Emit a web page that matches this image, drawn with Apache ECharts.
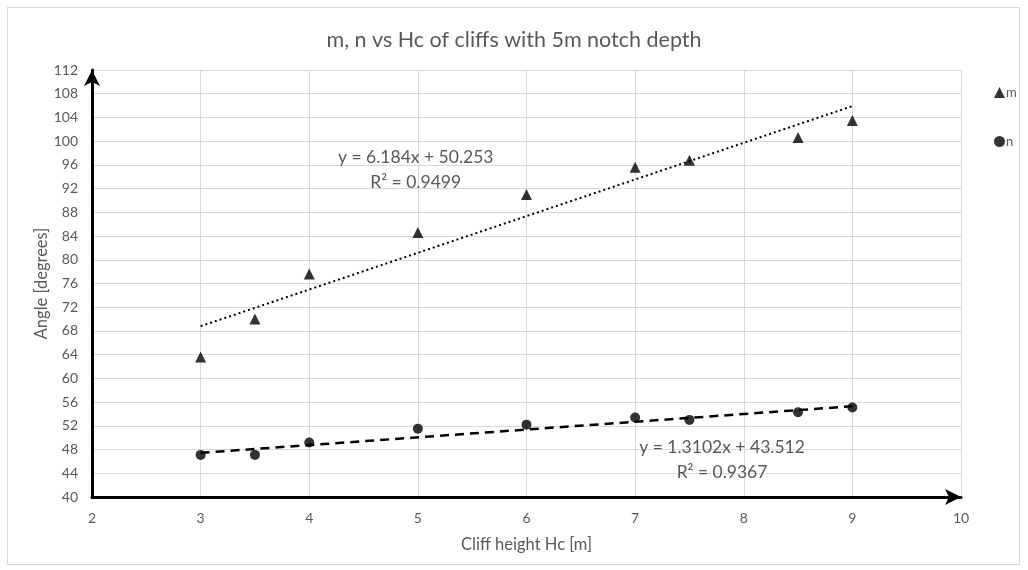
<!DOCTYPE html>
<html>
<head>
<meta charset="utf-8">
<script src="https://cdn.jsdelivr.net/npm/echarts@6/dist/echarts.min.js"></script>
<style>
  html, body { margin: 0; padding: 0; background: #fff; }
  #frame { position: absolute; left: 7px; top: 7px; width: 1013px; height: 558px; border: 1px solid #d9d9d9; box-sizing: border-box; }
  #chart { position: absolute; left: 0; top: 0; width: 1028px; height: 570px; }
</style>
</head>
<body>
<div id="frame"></div>
<div id="chart"></div>
<script>
// Cliff height Hc [m]
const heights = [3, 3.5, 4, 5, 6, 7, 7.5, 8.5, 9];
// Angle m [degrees]
const mValues = [63.6, 70.0, 77.6, 84.6, 91.0, 95.6, 96.8, 100.6, 103.5];
// Angle n [degrees]
const nValues = [47.1, 47.1, 49.2, 51.5, 52.2, 53.4, 53.0, 54.3, 55.1];

// Linear trend fits (slope, intercept, R²)
const mFit = { slope: 6.184, intercept: 50.253, r2: 0.9499 };
const nFit = { slope: 1.3102, intercept: 43.512, r2: 0.9367 };

const xTicks = [2, 3, 4, 5, 6, 7, 8, 9, 10];
const yTicks = [40, 44, 48, 52, 56, 60, 64, 68, 72, 76, 80, 84, 88, 92, 96, 100, 104, 108, 112];

const FONT = 'Lato, "Open Sans", sans-serif';
const GREY = '#595959';

const pairs = (xs, ys) => xs.map((x, i) => [x, ys[i]]);
const trend = (fit) => {
  const x0 = heights[0], x1 = heights[heights.length - 1];
  return [[x0, fit.slope * x0 + fit.intercept], [x1, fit.slope * x1 + fit.intercept]];
};
const eqText = (fit) => 'y = ' + fit.slope + 'x + ' + fit.intercept + '\nR² = ' + fit.r2;

const chart = echarts.init(document.getElementById('chart'));
chart.setOption({
  animation: false,
  backgroundColor: 'transparent',
  title: {
    text: 'm, n vs Hc of cliffs with 5m notch depth',
    left: 'center', top: 24,
    textStyle: { fontFamily: FONT, fontSize: 21.5, fontWeight: 'normal', color: GREY }
  },
  legend: {
    orient: 'vertical', left: 989, top: 81, itemGap: 36,
    itemWidth: 11, itemHeight: 11,
    textStyle: { fontFamily: FONT, fontSize: 13, color: GREY, padding: [0, 0, 0, -4] },
    data: [
      { name: 'm', icon: 'triangle' },
      { name: 'n', icon: 'circle' }
    ]
  },
  grid: { left: 92, right: 67, top: 70, bottom: 73 },
  xAxis: {
    type: 'value', min: xTicks[0], max: xTicks[xTicks.length - 1], interval: 1,
    name: 'Cliff height Hc [m]', nameLocation: 'middle', nameGap: 39, nameMoveOverlap: false,
    nameTextStyle: { fontFamily: FONT, fontSize: 16.5, color: GREY },
    axisLine: { lineStyle: { color: '#000', width: 3 }, symbol: ['none', 'arrow'], symbolSize: [12, 16], symbolOffset: [0, 0] },
    axisTick: { show: false },
    axisLabel: { fontFamily: FONT, fontSize: 14, color: GREY, margin: 14 },
    splitLine: { show: true, lineStyle: { color: '#d9d9d9', width: 1 } }
  },
  yAxis: {
    type: 'value', min: yTicks[0], max: yTicks[yTicks.length - 1], interval: 4,
    name: 'Angle [degrees]', nameLocation: 'middle', nameGap: 42, nameRotate: 90, nameMoveOverlap: false,
    nameTextStyle: { fontFamily: FONT, fontSize: 16.5, color: GREY },
    axisLine: { show: true, lineStyle: { color: '#000', width: 3 }, symbol: ['none', 'arrow'], symbolSize: [12, 16] },
    axisTick: { show: false },
    axisLabel: { fontFamily: FONT, fontSize: 14, color: GREY, margin: 14 },
    splitLine: { show: true, lineStyle: { color: '#d9d9d9', width: 1 } }
  },
  series: [
    {
      name: 'm trend', type: 'line', data: trend(mFit), showSymbol: false, symbol: 'none',
      lineStyle: { color: '#000', width: 2, type: [2, 3] }, z: 2,
      markPoint: {
        symbol: 'circle', symbolSize: 0,
        label: { show: true, formatter: eqText(mFit), fontFamily: FONT, fontSize: 17.5, color: GREY, lineHeight: 25, align: 'center' },
        data: [{ coord: [4.98, 95.1] }]
      }
    },
    {
      name: 'n trend', type: 'line', data: trend(nFit), showSymbol: false, symbol: 'none',
      lineStyle: { color: '#000', width: 2.5, type: [9, 6] }, z: 2,
      markPoint: {
        symbol: 'circle', symbolSize: 0,
        label: { show: true, formatter: eqText(nFit), fontFamily: FONT, fontSize: 17.5, color: GREY, lineHeight: 25, align: 'center' },
        data: [{ coord: [7.8, 46.2] }]
      }
    },
    {
      name: 'm', type: 'scatter', data: pairs(heights, mValues),
      symbol: 'triangle', symbolSize: 11, itemStyle: { color: '#000' }, z: 3
    },
    {
      name: 'n', type: 'scatter', data: pairs(heights, nValues),
      symbol: 'circle', symbolSize: 10, itemStyle: { color: '#000' }, z: 3
    }
  ]
});
</script>
</body>
</html>
